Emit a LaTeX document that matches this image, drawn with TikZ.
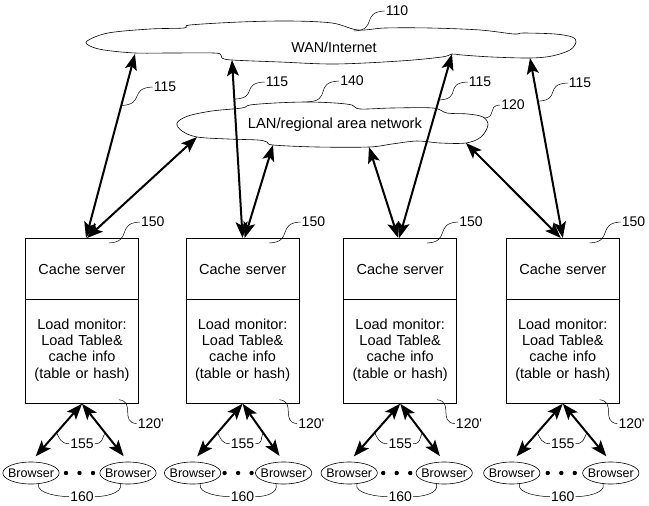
\documentclass[tikz,border=0pt]{standalone}
\usepackage{fontspec}
\setmainfont{Liberation Sans}
\usetikzlibrary{positioning, shapes.multipart, shapes.geometric, arrows.meta}

\begin{document}
\begin{tikzpicture}[
        x=1pt, y=-1pt,
        server/.style={
            rectangle split,
            rectangle split parts=2,
            draw,
            line width=0.6pt,
            text width=113pt,
            inner xsep=0pt,
            inner ysep=0pt,
            font=\fontsize{14.5}{16.3}\selectfont,
            every text node part/.style={align=center},
            every two node part/.style={align=center}
        },
        browser/.style={
            ellipse,
            draw,
            line width=0.6pt,
            inner xsep=-3pt,
            inner ysep=0pt,
            minimum height=22pt,
            font=\fontsize{12.5}{14}\selectfont
        },
        net/.style={
            line width=0.6pt
        },
        num/.style={
            font=\fontsize{14}{16}\selectfont,
            inner sep=1pt
        },
        lead/.style={
            line width=0.5pt
        },
        link/.style={
            >={Stealth[length=16pt, width=12pt, inset=3.5pt]},
            <->,
            line width=2pt
        }
    ]

    \useasboundingbox (0,0) rectangle (649,506);

    % WAN cloud
    \draw[net] plot[smooth cycle, tension=0.55] coordinates {
        (87,41) (108,33) (150,29) (184,28) (190,25) (240,22) (290,21) (332,23)
        (358,30) (385,28) (430,28) (480,30) (514,34) (523,33) (555,34) (572,37)
        (576,42) (570,50) (552,56) (530,58) (492,57) (462,55) (452,54) (442,57)
        (400,61) (335,64) (280,62) (232,60) (222,58) (221,55) (214,53) (170,53)
        (135,53) (104,50) (90,46)};
    \node[font=\fontsize{14.3}{16}\selectfont] (wan) at (334,47) {WAN/Internet};

    % LAN cloud
    \draw[net] plot[smooth cycle, tension=0.55] coordinates {
        (177,123) (188,116) (212,111) (242,108) (250,105) (275,103) (307,102)
        (335,103) (352,105) (360,109) (392,108) (433,108) (447,113) (468,114)
        (483,117) (488,125) (481,137) (466,143) (440,143) (417,141) (392,144)
        (369,147) (317,147) (273,145) (267,142) (258,140) (228,139) (197,137)
        (182,131)};
    \node[font=\fontsize{14.7}{16}\selectfont] (lan) at (335,125) {LAN/regional area network};

    % Points on the clouds
    \coordinate (w1) at (135,54);
    \coordinate (w2) at (232,60);
    \coordinate (w3) at (452,54);
    \coordinate (w4) at (530,58);
    \coordinate (l1) at (197,137);
    \coordinate (l2) at (273,145);
    \coordinate (l3) at (369,147);
    \coordinate (l4) at (466,143);
    \coordinate (c110) at (354,31);
    \coordinate (c140) at (307,102);
    \coordinate (c120) at (484,118);

    % Cache servers
    \node[server, anchor=north] (cs1) at (82,238) {
        \rule[-24pt]{0pt}{60pt}Cache server
        \nodepart{two}
        \rule{0pt}{30pt}Load monitor:\\
        Load Table\&\\
        cache info\\
        (table or hash)\rule[-25pt]{0pt}{0pt}
    };
    \node[server, right=47pt of cs1] (cs2) {
        \rule[-24pt]{0pt}{60pt}Cache server
        \nodepart{two}
        \rule{0pt}{30pt}Load monitor:\\
        Load Table\&\\
        cache info\\
        (table or hash)\rule[-25pt]{0pt}{0pt}
    };
    \node[server, right=44pt of cs2] (cs3) {
        \rule[-24pt]{0pt}{60pt}Cache server
        \nodepart{two}
        \rule{0pt}{30pt}Load monitor:\\
        Load Table\&\\
        cache info\\
        (table or hash)\rule[-25pt]{0pt}{0pt}
    };
    \node[server, right=49pt of cs3] (cs4) {
        \rule[-24pt]{0pt}{60pt}Cache server
        \nodepart{two}
        \rule{0pt}{30pt}Load monitor:\\
        Load Table\&\\
        cache info\\
        (table or hash)\rule[-25pt]{0pt}{0pt}
    };

    % Browsers
    \node[browser, below=58pt of cs1.south, xshift=-51pt] (br1a) {Browser};
    \node[browser, below=58pt of cs1.south, xshift=46pt] (br1b) {Browser};
    \node[browser, below=58pt of cs2.south, xshift=-50pt] (br2a) {Browser};
    \node[browser, below=58pt of cs2.south, xshift=41pt] (br2b) {Browser};
    \node[browser, below=58pt of cs3.south, xshift=-51pt] (br3a) {Browser};
    \node[browser, below=58pt of cs3.south, xshift=44pt] (br3b) {Browser};
    \node[browser, below=58pt of cs4.south, xshift=-51pt] (br4a) {Browser};
    \node[browser, below=58pt of cs4.south, xshift=48pt] (br4b) {Browser};

    % Dots between browsers
    \path (br1a.center) -- coordinate[midway] (m1) (br1b.center);
    \path (br2a.center) -- coordinate[midway] (m2) (br2b.center);
    \path (br3a.center) -- coordinate[midway] (m3) (br3b.center);
    \path (br4a.center) -- coordinate[midway] (m4) (br4b.center);
    \fill ([xshift=-13.5pt]m1) circle (2.2pt) (m1) circle (2.2pt) ([xshift=13.5pt]m1) circle (2.2pt);
    \fill ([xshift=-13.5pt]m2) circle (2.2pt) (m2) circle (2.2pt) ([xshift=13.5pt]m2) circle (2.2pt);
    \fill ([xshift=-13.5pt]m3) circle (2.2pt) (m3) circle (2.2pt) ([xshift=13.5pt]m3) circle (2.2pt);
    \fill ([xshift=-13.5pt]m4) circle (2.2pt) (m4) circle (2.2pt) ([xshift=13.5pt]m4) circle (2.2pt);

    % Links to the networks
    \draw[link] (w1) -- coordinate[pos=0.28] (t1) ([xshift=4pt]cs1.north);
    \draw[link] (l1) -- ([xshift=5pt]cs1.north);
    \draw[link] (w2) -- coordinate[pos=0.22] (t2) (cs2.north);
    \draw[link] (l2) -- ([xshift=2pt]cs2.north);
    \draw[link] (w3) -- coordinate[pos=0.25] (t3) ([xshift=-1pt]cs3.north);
    \draw[link] (l3) -- ([xshift=-2pt]cs3.north);
    \draw[link] (w4) -- coordinate[pos=0.24] (t4) (cs4.north);
    \draw[link] (l4) -- ([xshift=-2pt]cs4.north);

    % Links to the browsers
    \draw[link, shorten >=7pt] (cs1.south) -- coordinate[pos=0.5] (u1a) (br1a.north);
    \draw[link, shorten >=7pt] (cs1.south) -- coordinate[pos=0.5] (u1b) (br1b.north);
    \draw[link, shorten >=7pt] (cs2.south) -- coordinate[pos=0.5] (u2a) (br2a.north);
    \draw[link, shorten >=7pt] (cs2.south) -- coordinate[pos=0.5] (u2b) (br2b.north);
    \draw[link, shorten >=7pt] (cs3.south) -- coordinate[pos=0.5] (u3a) (br3a.north);
    \draw[link, shorten >=7pt] (cs3.south) -- coordinate[pos=0.5] (u3b) (br3b.north);
    \draw[link, shorten >=7pt] (cs4.south) -- coordinate[pos=0.5] (u4a) (br4a.north);
    \draw[link, shorten >=7pt] (cs4.south) -- coordinate[pos=0.5] (u4b) (br4b.north);

    % Reference numbers of the networks
    \node[num] (n110) at (397,11) {110};
    \draw[lead] (c110) .. controls +(24,-1) and +(-24,1) .. (n110.west);
    \node[num] (n140) at (352,81) {140};
    \draw[lead] (c140) .. controls +(26,-1) and +(-26,1) .. (n140.west);
    \node[num] (n120) at (513,105) {120};
    \draw[lead] (c120) .. controls +(14,-1) and +(-14,1) .. (n120.west);
    \node[num] (n115a) at (165,87) {115};
    \draw[lead] (t1) .. controls +(24,-1) and +(-24,1) .. (n115a.west);
    \node[num] (n115b) at (277,82) {115};
    \draw[lead] (t2) .. controls +(24,-1) and +(-24,1) .. (n115b.west);
    \node[num] (n115c) at (480,82) {115};
    \draw[lead] (t3) .. controls +(24,-1) and +(-24,1) .. (n115c.west);
    \node[num] (n115d) at (580,83) {115};
    \draw[lead] (t4) .. controls +(24,-1) and +(-24,1) .. (n115d.west);

    % Reference numbers of the servers
    \node[num] (n150a) at ([xshift=14pt, yshift=16pt]cs1.north east) {150};
    \node[num] (n150b) at ([xshift=14pt, yshift=16pt]cs2.north east) {150};
    \node[num] (n150c) at ([xshift=14pt, yshift=16pt]cs3.north east) {150};
    \node[num] (n150d) at ([xshift=14pt, yshift=16pt]cs4.north east) {150};
    \coordinate (p1) at ([xshift=-30pt, yshift=-5pt]cs1.north east);
    \coordinate (p2) at ([xshift=-30pt, yshift=-5pt]cs2.north east);
    \coordinate (p3) at ([xshift=-30pt, yshift=-5pt]cs3.north east);
    \coordinate (p4) at ([xshift=-30pt, yshift=-5pt]cs4.north east);
    \draw[lead] (p1) .. controls +(24,-1) and +(-24,1) .. (n150a.west);
    \draw[lead] (p2) .. controls +(24,-1) and +(-24,1) .. (n150b.west);
    \draw[lead] (p3) .. controls +(24,-1) and +(-24,1) .. (n150c.west);
    \draw[lead] (p4) .. controls +(24,-1) and +(-24,1) .. (n150d.west);

    \node[num] (n120pa) at ([xshift=12pt, yshift=-20pt]cs1.south east) {120\textquotesingle};
    \node[num] (n120pb) at ([xshift=12pt, yshift=-20pt]cs2.south east) {120\textquotesingle};
    \node[num] (n120pc) at ([xshift=12pt, yshift=-20pt]cs3.south east) {120\textquotesingle};
    \node[num] (n120pd) at ([xshift=12pt, yshift=-20pt]cs4.south east) {120\textquotesingle};
    \coordinate (q1) at ([xshift=-20pt, yshift=4pt]cs1.south east);
    \coordinate (q2) at ([xshift=-20pt, yshift=4pt]cs2.south east);
    \coordinate (q3) at ([xshift=-20pt, yshift=4pt]cs3.south east);
    \coordinate (q4) at ([xshift=-20pt, yshift=4pt]cs4.south east);
    \draw[lead] (q1) .. controls +(17,2) and +(-17,-2) .. (n120pa.west);
    \draw[lead] (q2) .. controls +(17,2) and +(-17,-2) .. (n120pb.west);
    \draw[lead] (q3) .. controls +(17,2) and +(-17,-2) .. (n120pc.west);
    \draw[lead] (q4) .. controls +(17,2) and +(-17,-2) .. (n120pd.west);

    % Reference numbers of the links and browsers
    \node[num] (n155a) at ([yshift=-40pt]cs1.south) {155};
    \node[num] (n155b) at ([yshift=-40pt]cs2.south) {155};
    \node[num] (n155c) at ([yshift=-40pt]cs3.south) {155};
    \node[num] (n155d) at ([yshift=-40pt]cs4.south) {155};
    \draw[lead] (u1a) .. controls +(3,6) and +(-8,0) .. (n155a.west);
    \draw[lead] (n155a.east) .. controls +(8,0) and +(-3,6) .. (u1b);
    \draw[lead] (u2a) .. controls +(3,6) and +(-8,0) .. (n155b.west);
    \draw[lead] (n155b.east) .. controls +(8,0) and +(-3,6) .. (u2b);
    \draw[lead] (u3a) .. controls +(3,6) and +(-8,0) .. (n155c.west);
    \draw[lead] (n155c.east) .. controls +(8,0) and +(-3,6) .. (u3b);
    \draw[lead] (u4a) .. controls +(3,6) and +(-8,0) .. (n155d.west);
    \draw[lead] (n155d.east) .. controls +(8,0) and +(-3,6) .. (u4b);

    \node[num] (n160a) at ([yshift=-93pt]cs1.south) {160};
    \node[num] (n160b) at ([yshift=-93pt]cs2.south) {160};
    \node[num] (n160c) at ([yshift=-93pt]cs3.south) {160};
    \node[num] (n160d) at ([yshift=-93pt]cs4.south) {160};
    \draw[lead] (br1a.-55) .. controls +(-3,10) and +(-8,0) .. (n160a.west);
    \draw[lead] (n160a.east) .. controls +(8,0) and +(3,10) .. (br1b.-125);
    \draw[lead] (br2a.-55) .. controls +(-3,10) and +(-8,0) .. (n160b.west);
    \draw[lead] (n160b.east) .. controls +(8,0) and +(3,10) .. (br2b.-125);
    \draw[lead] (br3a.-55) .. controls +(-3,10) and +(-8,0) .. (n160c.west);
    \draw[lead] (n160c.east) .. controls +(8,0) and +(3,10) .. (br3b.-125);
    \draw[lead] (br4a.-55) .. controls +(-3,10) and +(-8,0) .. (n160d.west);
    \draw[lead] (n160d.east) .. controls +(8,0) and +(3,10) .. (br4b.-125);

\end{tikzpicture}
\end{document}
